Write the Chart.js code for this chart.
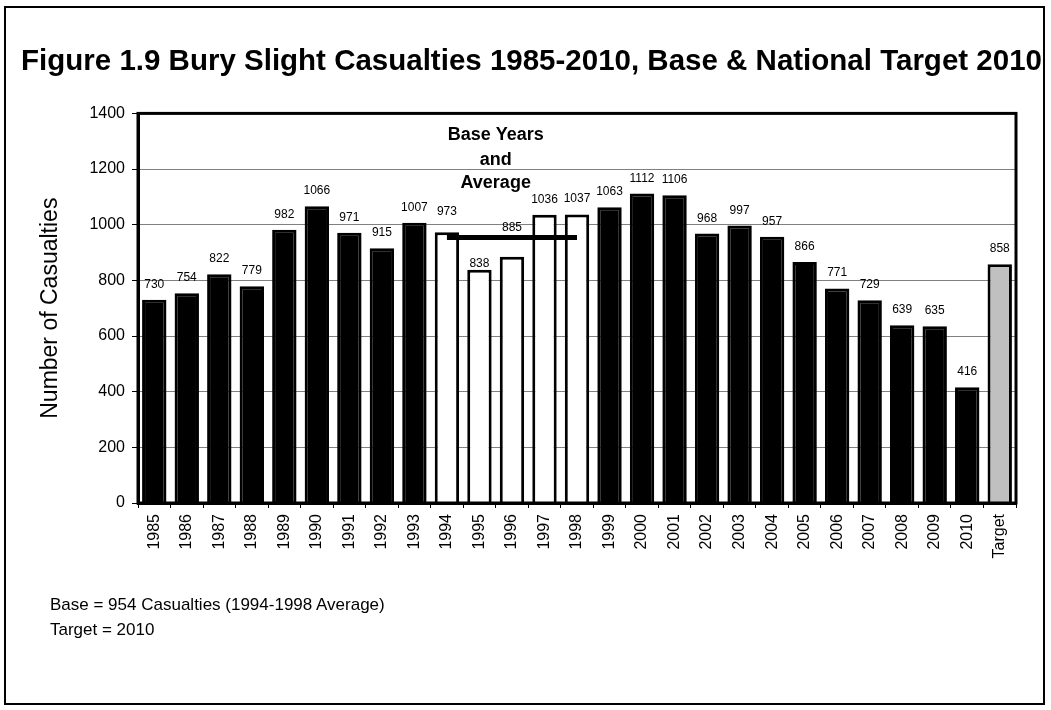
<!DOCTYPE html>
<html><head><meta charset="utf-8">
<script src="https://cdn.jsdelivr.net/npm/chart.js@4.4.1/dist/chart.umd.min.js"></script>
<style>
html,body{margin:0;padding:0;background:#fff;}
#wrap{position:relative;width:1051px;height:710px;overflow:hidden;font-family:"Liberation Sans",Arial,sans-serif;}
#frame{position:absolute;left:4px;top:6px;width:1037px;height:695px;border:2px solid #000;pointer-events:none;}
#c{position:absolute;left:0;top:0;}
.note{position:absolute;left:50px;font-size:17px;line-height:25px;color:#000;white-space:nowrap;}
</style></head><body>
<div id="wrap">
<canvas id="c" width="1051" height="710"></canvas>
<div id="frame"></div>
<div class="note" id="note1" style="top:592px"></div>
<div class="note" id="note2" style="top:617px"></div>
</div>
<script>
// ---- data ----
const categories = ['1985','1986','1987','1988','1989','1990','1991','1992','1993','1994','1995','1996','1997','1998','1999','2000','2001','2002','2003','2004','2005','2006','2007','2008','2009','2010','Target'];
const casualties = [730,754,822,779,982,1066,971,915,1007,973,838,885,1036,1037,1063,1112,1106,968,997,957,866,771,729,639,635,416,858];
const baseYears = ['1994','1995','1996','1997','1998'];
const baseAverage = 954;
const yTickValues = [0,200,400,600,800,1000,1200,1400];
const titleText = 'Figure 1.9 Bury Slight Casualties 1985-2010, Base & National Target 2010';
const yAxisTitle = 'Number of Casualties';
const annotationLines = ['Base Years','and','Average'];
const noteLines = ['Base = 954 Casualties (1994-1998 Average)','Target = 2010'];

// ---- styling (not data) ----
const FONT = '"Liberation Sans", Arial, sans-serif';
const labelLift = {'1994':17,'1995':2.5,'1996':26};
const barColors = categories.map(c => baseYears.includes(c) ? '#ffffff' : (c === 'Target' ? '#c0c0c0' : '#000000'));

document.getElementById('note1').textContent = noteLines[0];
document.getElementById('note2').textContent = noteLines[1];

const valueLabels = {
  id:'valueLabels',
  afterDatasetsDraw(chart){
    const ctx = chart.ctx;
    const meta = chart.getDatasetMeta(0);
    ctx.save();
    ctx.font = '12px ' + FONT;
    ctx.fillStyle = '#000';
    ctx.textAlign = 'center';
    ctx.textBaseline = 'alphabetic';
    meta.data.forEach((el,i) => {
      const lift = labelLift[categories[i]] !== undefined ? labelLift[categories[i]] : 12;
      ctx.fillText(String(casualties[i]), el.x, el.y - lift);
    });
    ctx.restore();
  }
};

const annotation = {
  id:'annotation',
  afterDraw(chart){
    const ctx = chart.ctx;
    const xs = chart.scales.x;
    const x = (xs.getPixelForValue(10) + xs.getPixelForValue(11)) / 2;
    const top = chart.chartArea.top;
    const offs = [27, 52, 75];
    ctx.save();
    ctx.font = 'bold 18px ' + FONT;
    ctx.fillStyle = '#000';
    ctx.textAlign = 'center';
    ctx.textBaseline = 'alphabetic';
    annotationLines.forEach((t,i) => ctx.fillText(t, x, top + offs[i]));
    const a = chart.chartArea;
    ctx.strokeStyle = '#000';
    ctx.lineWidth = 3;
    ctx.strokeRect(a.left, a.top, a.right - a.left, a.bottom - a.top);
    ctx.restore();
  }
};

new Chart(document.getElementById('c'), {
  data: {
    labels: categories,
    datasets: [
      {
        type:'bar',
        data: casualties,
        backgroundColor: barColors,
        borderColor: '#000',
        borderWidth: 3,
        barPercentage: 0.75,
        categoryPercentage: 1.0,
        order: 1
      },
      {
        type:'line',
        data: categories.map(c => baseYears.includes(c) ? baseAverage : null),
        borderColor:'#000',
        borderWidth:5,
        pointRadius:0,
        fill:false,
        spanGaps:false,
        order: 0
      }
    ]
  },
  options: {
    responsive:false,
    animation:false,
    devicePixelRatio:1,
    layout:{padding:{left:12,right:0,top:0,bottom:0}},
    plugins:{
      legend:{display:false},
      tooltip:{enabled:false},
      title:{display:true,text:titleText,color:'#000',font:{family:FONT,size:29.5,weight:'bold'},padding:{top:44,bottom:34}}
    },
    scales:{
      x:{
        grid:{display:true,drawOnChartArea:false,drawTicks:true,tickLength:5,tickColor:'#000',offset:true},
        border:{display:true,color:'#000',width:3},
        ticks:{minRotation:90,maxRotation:90,autoSkip:false,color:'#000',font:{family:FONT,size:16},padding:6},
        afterFit(s){ s.height = 207; }
      },
      y:{
        min:0,max:1400,
        afterBuildTicks(s){ s.ticks = yTickValues.map(v => ({value:v})); },
        grid:{color:'#808080',lineWidth:1,tickColor:'#000',tickLength:6},
        border:{display:true,color:'#000',width:3},
        ticks:{color:'#000',font:{family:FONT,size:16},padding:7,callback:(v) => String(v)},
        title:{display:true,text:yAxisTitle,color:'#000',font:{family:FONT,size:23},padding:{top:25,bottom:0}},
        afterFit(s){ s.width = 126; }
      },
      yRight:{
        position:'right',
        display:true,
        min:0,max:1400,
        grid:{display:false},
        border:{display:false},
        ticks:{display:false},
        afterFit(s){ s.width = 35; }
      }
    }
  },
  plugins:[valueLabels, annotation]
});
</script>
</body></html>
